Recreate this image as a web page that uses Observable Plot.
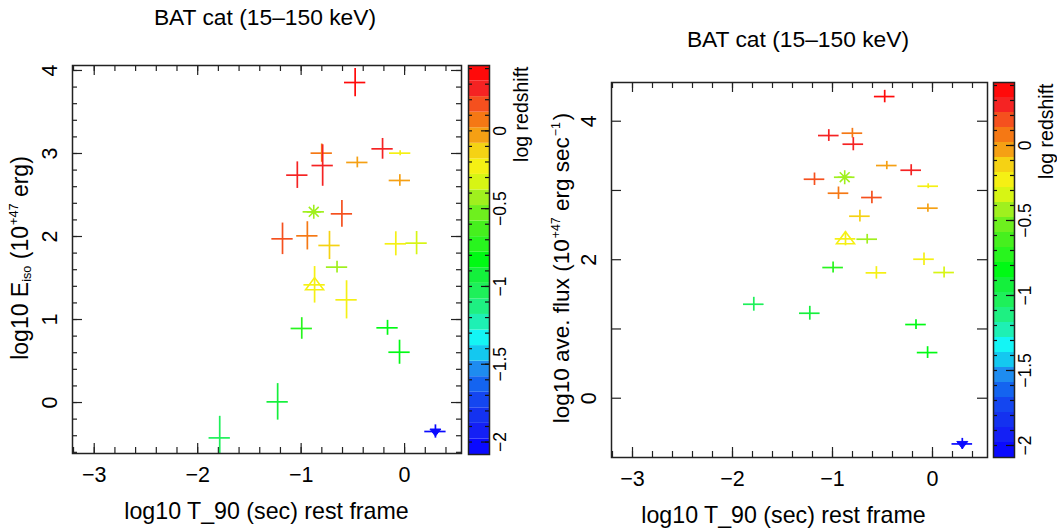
<!DOCTYPE html>
<html><head><meta charset="utf-8">
<script src="https://cdn.jsdelivr.net/npm/d3@7"></script>
<script src="https://cdn.jsdelivr.net/npm/@observablehq/plot@0.6"></script>
<style>
body{margin:0;background:#fff;}
#wrap{position:relative;width:1057px;height:530px;overflow:hidden;font-family:"Liberation Sans",Arial,Helvetica,sans-serif;color:#000;background:#fff}
#wrap svg{position:absolute;top:0}
.t{position:absolute;white-space:nowrap;font-size:23px;line-height:1;transform:translate(-50%,-50%)}
.r{transform:translate(-50%,-50%) rotate(-90deg)}
.t sub{font-size:0.55em;vertical-align:-0.3em}
.t sup{font-size:0.55em;vertical-align:0.75em}
</style></head><body><div id="wrap"></div>
<script>
// ---- data ----
const t90      = [-0.478,-0.213,-0.043,-0.801,-0.792,-0.457,-1.037,-0.046,-0.878,-0.606,-1.180,-0.940,-0.726,-0.085,0.116,-0.653,-0.870,-0.561,-0.994,-0.165,-0.049,-1.227,-1.787,0.298];
const t90Err   = [0.103,0.103,0.103,0.103,0.103,0.103,0.103,0.103,0.103,0.103,0.103,0.103,0.103,0.103,0.103,0.103,0.103,0.103,0.103,0.103,0.103,0.103,0.103,0.103];
const logEiso  = [3.855,3.056,3.004,3.004,2.855,2.892,2.739,2.675,2.297,2.273,1.972,2.008,1.892,1.912,1.920,1.631,1.418,1.237,0.892,0.900,0.606,0.008,-0.426,-0.349];
const logEisoErr=[0.17,0.125,0.03,0.11,0.25,0.065,0.16,0.07,0,0.16,0.19,0.17,0.17,0.145,0.14,0.07,0.22,0.23,0.13,0.09,0.145,0.22,0.26,0.08];
const logFlux  = [4.356,3.292,3.061,3.827,3.668,3.360,3.793,2.744,3.191,2.898,3.162,2.960,2.628,2.007,1.815,2.296,2.301,1.810,1.887,1.064,0.659,1.227,1.357,-0.660];
const logFluxErr=[0.09,0.08,0.035,0.07,0.095,0.06,0.085,0.06,0,0.09,0.09,0.09,0.085,0.09,0.08,0.07,0.1,0.09,0.08,0.07,0.085,0.1,0.1,0.08];
const logZ     = [0.38,0.30,-0.25,0.05,0.30,-0.05,0.25,-0.05,-0.45,0.15,0.15,0.05,-0.15,-0.25,-0.33,-0.45,-0.25,-0.25,-0.75,-0.82,-0.85,-0.90,-1.00,-2.03];
const marker   = ["","","","","","","","","asterisk","","","","","","","","triangle","","","","","","","invtriangle"];

// colour bar bands (bottom -> top)
const zEdges  = [-2.08,-1.98,-1.88,-1.78,-1.68,-1.58,-1.48,-1.38,-1.28,-1.18,-1.08,-0.98,-0.88,-0.78,-0.68,-0.58,-0.48,-0.38,-0.28,-0.18,-0.08,0.02,0.12,0.22,0.32,0.42];
const zColors = ["#0a0aff","#1420f5","#1432f0","#1446f0","#1464f0","#1e8cf0","#14c8f0","#14f5f5","#1ef0b4","#1ef082","#1ef05a","#14f03c","#00fa14","#28f51e","#46f01e","#6ef01e","#a0f01e","#d7f514","#f5f014","#f5d214","#f5a014","#f57814","#f5501e","#f52323","#ff0a0a"];

// ticks and labels
const xDomain = [-3.21, 0.55];
const xMajor = [-3,-2,-1,0];
const xMinor = [-3.2,-3,-2.8,-2.6,-2.4,-2.2,-2,-1.8,-1.6,-1.4,-1.2,-1,-0.8,-0.6,-0.4,-0.2,0,0.2,0.4];
const yLeftDomain = [-0.614, 4.06];
const yLeftMajor = [0,1,2,3,4];
const yLeftMinor = [-0.6,-0.4,-0.2,0,0.2,0.4,0.6,0.8,1,1.2,1.4,1.6,1.8,2,2.2,2.4,2.6,2.8,3,3.2,3.4,3.6,3.8,4];
const yLeftLabels = [0,1,2,3,4];
const yRightDomain = [-0.856, 4.559];
const yRightMajor = [0,1,2,3,4];
const yRightLabels = [0,2,4];
const zMajor = [-2,-1.5,-1,-0.5,0];
const zMinor = [-2,-1.9,-1.8,-1.7,-1.6,-1.5,-1.4,-1.3,-1.2,-1.1,-1,-0.9,-0.8,-0.7,-0.6,-0.5,-0.4,-0.3,-0.2,-0.1,0,0.1,0.2,0.3,0.4];

const titleText = "BAT cat (15–150 keV)";
const xTitle = "log10 T_90 (sec) rest frame";
const zTitle = "log redshift";

// ---- build ----
const pts = t90.map((t,i)=>({t, te:t90Err[i], e:logEiso[i], ee:logEisoErr[i], f:logFlux[i], fe:logFluxErr[i], z:logZ[i], m:marker[i]}));
const bands = zColors.map((c,i)=>({lo:zEdges[i], hi:zEdges[i+1], color:c}));
const colorOpt = {type:"threshold", domain: zEdges.slice(1,-1), range: zColors};
const fmt = d => d < 0 ? "\u2212" + String(-d) : String(d);
const FONT = '"Liberation Sans", Arial, Helvetica, sans-serif';
const INK = "#222";

const symAsterisk = {draw(ctx, size){ const r=Math.sqrt(size/Math.PI); const k=r*Math.SQRT1_2;
  ctx.moveTo(-r,0);ctx.lineTo(r,0);ctx.moveTo(0,-r);ctx.lineTo(0,r);
  ctx.moveTo(-k,-k);ctx.lineTo(k,k);ctx.moveTo(-k,k);ctx.lineTo(k,-k);}};
const symTriangle = {draw(ctx, size){ const r=Math.sqrt(size/Math.PI);
  ctx.moveTo(0,-0.8*r);ctx.lineTo(r,0.55*r);ctx.lineTo(-r,0.55*r);ctx.closePath();}};
const symInvTriangle = {draw(ctx, size){ const r=Math.sqrt(size/Math.PI);
  ctx.moveTo(-r,-0.45*r);ctx.lineTo(r,-0.45*r);ctx.lineTo(0,0.85*r);ctx.closePath();}};

function panel({yKey, yeKey, yDomain, yMajor, yMinor, yLabels, width, mL, mR, mT, mB, left}) {
  const height = 530;
  const H = height - mT - mB;
  const marks = [
    Plot.tickX(xMinor, {x:d=>d, insetTop:H-6, stroke:INK, strokeWidth:1.2}),
    Plot.tickX(xMinor, {x:d=>d, insetBottom:H-6, stroke:INK, strokeWidth:1.2}),
    Plot.tickX(xMajor, {x:d=>d, insetTop:H-10, stroke:INK, strokeWidth:1.2}),
    Plot.tickX(xMajor, {x:d=>d, insetBottom:H-10, stroke:INK, strokeWidth:1.2}),
  ];
  const W = width - mL - mR;
  if (yMinor) {
    marks.push(Plot.tickY(yMinor, {y:d=>d, insetRight:W-5, stroke:INK, strokeWidth:1.2}));
    marks.push(Plot.tickY(yMinor, {y:d=>d, insetLeft:W-5, stroke:INK, strokeWidth:1.2}));
  }
  marks.push(Plot.tickY(yMajor, {y:d=>d, insetRight:W-10, stroke:INK, strokeWidth:1.2}));
  marks.push(Plot.tickY(yMajor, {y:d=>d, insetLeft:W-10, stroke:INK, strokeWidth:1.2}));
  marks.push(
    Plot.ruleY(pts, {y:yKey, x1:d=>d.t-d.te, x2:d=>d.t+d.te, stroke:"z", strokeWidth:1.7, clip:true}),
    Plot.ruleX(pts.filter(d=>d[yeKey]>0), {x:"t", y1:d=>d[yKey]-d[yeKey], y2:d=>d[yKey]+d[yeKey], stroke:"z", strokeWidth:1.7, clip:true}),
    Plot.dot(pts.filter(d=>d.m==="asterisk"), {x:"t", y:yKey, r:7, symbol:symAsterisk, stroke:"z", strokeWidth:1.6}),
    Plot.dot(pts.filter(d=>d.m==="triangle"), {x:"t", y:yKey, r:9, symbol:symTriangle, stroke:"z", fill:"none", strokeWidth:1.6}),
    Plot.dot(pts.filter(d=>d.m==="invtriangle"), {x:"t", y:yKey, r:5.5, symbol:symInvTriangle, fill:"z", stroke:"z", strokeWidth:1}),
    Plot.frame({stroke:INK, strokeWidth:1.5}),
    Plot.text(xMajor, {x:d=>d, frameAnchor:"bottom", dy:13, lineAnchor:"top", text:fmt, fontSize:21.5, fill:"#000"}),
    Plot.text(yLabels, {y:d=>d, frameAnchor:"left", dx:-22, rotate:-90, textAnchor:"middle", lineAnchor:"middle", text:fmt, fontSize:21.5, fill:"#000"})
  );
  const svg = Plot.plot({
    width, height, marginLeft:mL, marginRight:mR, marginTop:mT, marginBottom:mB,
    x:{domain:xDomain, axis:null}, y:{domain:yDomain, axis:null},
    color: colorOpt,
    style:{background:"transparent", fontFamily:FONT, overflow:"visible"},
    marks
  });
  svg.style.left = left + "px";
  return svg;
}

function colorbar({width, mL, mR, mT, mB, left}) {
  const height = 530;
  const W = width - mL - mR;
  const svg = Plot.plot({
    width, height, marginLeft:mL, marginRight:mR, marginTop:mT, marginBottom:mB,
    x:{domain:[0,1], axis:null}, y:{domain:[zEdges[0], zEdges[zEdges.length-1]], axis:null},
    color:{type:"identity"},
    style:{background:"transparent", fontFamily:FONT, overflow:"visible"},
    marks:[
      Plot.rect(bands, {x1:0, x2:1, y1:"lo", y2:"hi", fill:"color"}),
      Plot.tickY(zMinor, {y:d=>d, insetRight:W-4, stroke:"#111", strokeWidth:1.2}),
      Plot.tickY(zMinor, {y:d=>d, insetLeft:W-4, stroke:"#111", strokeWidth:1.2}),
      Plot.tickY(zMajor, {y:d=>d, insetLeft:W-8, stroke:"#111", strokeWidth:1.2}),
      Plot.frame({stroke:INK, strokeWidth:1.5}),
      Plot.text(zMajor, {y:d=>d, frameAnchor:"right", dx:11, rotate:-90, textAnchor:"middle", lineAnchor:"middle", text:fmt, fontSize:17.5, fill:"#000"}),
      Plot.text([zTitle], {frameAnchor:"top-right", dx:32, dy:1, rotate:-90, textAnchor:"end", lineAnchor:"middle", text:d=>d, fontSize:19.5, fill:"#000"})
    ]
  });
  svg.style.left = left + "px";
  return svg;
}

const wrap = document.getElementById("wrap");
wrap.appendChild(panel({yKey:"e", yeKey:"ee", yDomain:yLeftDomain, yMajor:yLeftMajor, yMinor:yLeftMinor, yLabels:yLeftLabels, width:470, mL:72, mR:9, mT:65, mB:77, left:0}));
wrap.appendChild(colorbar({width:70, mL:6, mR:43, mT:65, mB:76, left:462}));
wrap.appendChild(panel({yKey:"f", yeKey:"fe", yDomain:yRightDomain, yMajor:yRightMajor, yMinor:null, yLabels:yRightLabels, width:460, mL:71, mR:13, mT:82, mB:73, left:540}));
wrap.appendChild(colorbar({width:70, mL:6, mR:43, mT:82, mB:73, left:987}));

function label(html, x, y, rot, size) {
  const d = document.createElement("div");
  d.className = "t" + (rot ? " r" : "");
  d.style.left = x + "px"; d.style.top = y + "px";
  if (size) d.style.fontSize = size + "px";
  d.innerHTML = html;
  wrap.appendChild(d);
}
label(titleText, 265, 17, false, 22.8);
label(titleText, 798, 38.5, false, 22.8);
label(xTitle, 266.5, 512, false, 23.2);
label(xTitle, 783.5, 516, false, 23.2);
label("log10 E<sub>iso</sub> (10<sup>&#8202;+47</sup> erg)", 21, 258, true, 23);
label("log10 ave. flux (10<sup>&#8202;+47</sup> erg sec<sup>&#8202;\u22121</sup>&#8202;)", 562, 268, true, 22.5);
</script></body></html>
